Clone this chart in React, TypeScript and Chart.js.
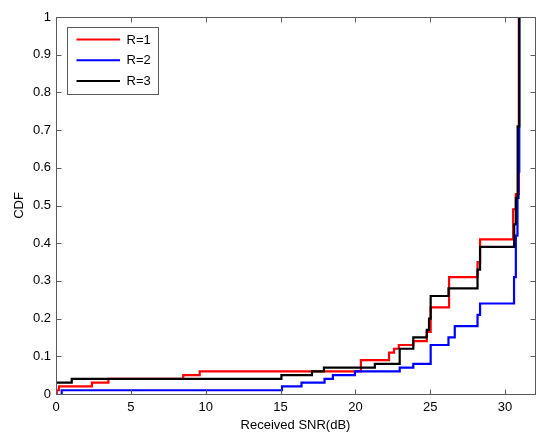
import React, { useEffect, useRef } from "react";
import { Chart, registerables } from "chart.js";

Chart.register(...registerables);

const seriesLabels = ["R=1", "R=2", "R=3"];
const seriesColors = ["#ff0000", "#0000ff", "#000000"];

const r1X = [0.05, 0.05, 0.2, 2.4, 3.5, 8.5, 9.6, 20.37, 22.25, 22.58, 22.9, 23.87, 24.77, 25.03, 26.26, 28.16, 28.33, 30.54, 30.72, 30.92];
const r1Y = [0, 0.01, 0.02, 0.03, 0.04, 0.05, 0.06, 0.09, 0.11, 0.12, 0.13, 0.14, 0.165, 0.23, 0.31, 0.35, 0.41, 0.49, 0.53, 1.0];

const r2X = [0.38, 0.38, 15.1, 16.4, 17.94, 18.5, 19.97, 22.96, 23.87, 25.03, 26.22, 26.64, 28.16, 28.33, 30.6, 30.72, 30.83, 30.9, 30.95];
const r2Y = [0, 0.01, 0.02, 0.03, 0.04, 0.05, 0.06, 0.07, 0.08, 0.13, 0.15, 0.18, 0.21, 0.24, 0.31, 0.42, 0.52, 0.59, 1.0];

const r3X = [0, 1.05, 15.06, 17.1, 17.9, 21.3, 22.96, 23.87, 24.77, 24.92, 25.03, 26.22, 28.16, 28.33, 30.61, 30.72, 30.84, 30.95];
const r3Y = [0.03, 0.04, 0.05, 0.06, 0.07, 0.08, 0.12, 0.15, 0.17, 0.2, 0.26, 0.28, 0.33, 0.39, 0.45, 0.52, 0.71, 1.0];

const xTicks = [0, 5, 10, 15, 20, 25, 30];
const yTicks = [0, 0.1, 0.2, 0.3, 0.4, 0.5, 0.6, 0.7, 0.8, 0.9, 1];
const xMin = 0;
const xMax = 32;
const yMin = 0;
const yMax = 1;
const xTitle = "Received SNR(dB)";
const yTitle = "CDF";

const FONT = "'Liberation Sans', Arial, sans-serif";

const toPoints = (xs: number[], ys: number[]) => xs.map((x, i) => ({ x, y: ys[i] }));

const boxPlugin = {
  id: "matlabBox",
  afterDatasetsDraw(chart: any) {
    const { ctx, chartArea, scales } = chart;
    const { left, right, top, bottom } = chartArea;
    ctx.save();
    ctx.strokeStyle = "#5a5a5a";
    ctx.lineWidth = 1;
    const L = Math.round(left) + 0.5;
    const R = Math.round(right) + 0.5;
    const T = Math.round(top) + 0.5;
    const B = Math.round(bottom) + 0.5;
    ctx.strokeRect(L, T, R - L, B - T);
    const tl = 5;
    ctx.beginPath();
    for (const v of xTicks) {
      const px = Math.round(scales.x.getPixelForValue(v)) + 0.5;
      ctx.moveTo(px, B);
      ctx.lineTo(px, B - tl);
      ctx.moveTo(px, T);
      ctx.lineTo(px, T + tl);
    }
    for (const v of yTicks) {
      const py = Math.round(scales.y.getPixelForValue(v)) + 0.5;
      ctx.moveTo(L, py);
      ctx.lineTo(L + tl, py);
      ctx.moveTo(R, py);
      ctx.lineTo(R - tl, py);
    }
    ctx.stroke();

    // x tick labels
    ctx.fillStyle = "#000";
    ctx.font = `13px ${FONT}`;
    ctx.textAlign = "center";
    ctx.textBaseline = "middle";
    for (const v of xTicks) {
      ctx.fillText(String(v), scales.x.getPixelForValue(v), bottom + 13);
    }

    // legend
    const lx = Math.round(left + 10.7) + 0.5;
    const ly = Math.round(top + 10.3) + 0.5;
    const lw = 91;
    const lh = 67;
    ctx.fillStyle = "#ffffff";
    ctx.fillRect(lx, ly, lw, lh);
    ctx.strokeStyle = "#5a5a5a";
    ctx.strokeRect(lx, ly, lw, lh);
    ctx.textBaseline = "middle";
    ctx.textAlign = "left";
    chart.data.datasets.forEach((ds: any, i: number) => {
      const y = ly + 12 + i * 20.8;
      ctx.strokeStyle = ds.borderColor;
      ctx.lineWidth = 2;
      ctx.beginPath();
      ctx.moveTo(lx + 9, y);
      ctx.lineTo(lx + 52.5, y);
      ctx.stroke();
      ctx.fillStyle = "#000";
      ctx.fillText(ds.label, lx + 59, y + 0.5);
    });
    ctx.restore();
  },
};

export default function App() {
  const ref = useRef<HTMLCanvasElement | null>(null);
  useEffect(() => {
    if (!ref.current) return;
    const chart = new Chart(ref.current, {
      type: "scatter",
      data: {
        datasets: [
          { label: seriesLabels[0], data: toPoints(r1X, r1Y), borderColor: seriesColors[0], order: 2 },
          { label: seriesLabels[1], data: toPoints(r2X, r2Y), borderColor: seriesColors[1], order: 1 },
          { label: seriesLabels[2], data: toPoints(r3X, r3Y), borderColor: seriesColors[2], order: 0 },
        ].map((d) => ({
          ...d,
          showLine: true,
          stepped: "before" as const,
          borderWidth: 2.2,
          pointRadius: 0,
          pointHoverRadius: 0,
          fill: false,
          backgroundColor: d.borderColor,
        })),
      },
      options: {
        animation: false,
        responsive: false,
        devicePixelRatio: 1,
        layout: { padding: { left: 0, top: 17, right: 15, bottom: 0 } },
        plugins: { legend: { display: false }, tooltip: { enabled: false } },
        scales: {
          x: {
            type: "linear",
            min: xMin,
            max: xMax,
            grid: { display: false, drawTicks: false },
            border: { display: false },
            afterBuildTicks: (s: any) => {
              s.ticks = xTicks.map((v) => ({ value: v }));
            },
            afterFit: (s: any) => {
              s.height = 48;
            },
            ticks: { display: false },
            title: {
              display: true,
              text: xTitle,
              color: "#000",
              font: { family: FONT, size: 13 },
              padding: { top: 0, bottom: 9 },
            },
          },
          y: {
            type: "linear",
            min: yMin,
            max: yMax,
            grid: { display: false, drawTicks: false },
            border: { display: false },
            afterBuildTicks: (s: any) => {
              s.ticks = yTicks.map((v) => ({ value: v }));
            },
            afterFit: (s: any) => {
              s.width = 56;
            },
            ticks: {
              color: "#000",
              font: { family: FONT, size: 13 },
              padding: 5,
              callback: (v: any) => String(Math.round(v * 10) / 10),
            },
            title: {
              display: true,
              text: yTitle,
              color: "#000",
              font: { family: FONT, size: 13 },
              padding: { top: 12, bottom: 0 },
            },
          },
        },
      },
      plugins: [boxPlugin],
    });
    return () => chart.destroy();
  }, []);
  return (
    <div style={{ position: "fixed", left: 0, top: 0, width: 550, height: 442, background: "#fff" }}>
      <canvas ref={ref} width={550} height={442} style={{ display: "block" }} />
    </div>
  );
}
